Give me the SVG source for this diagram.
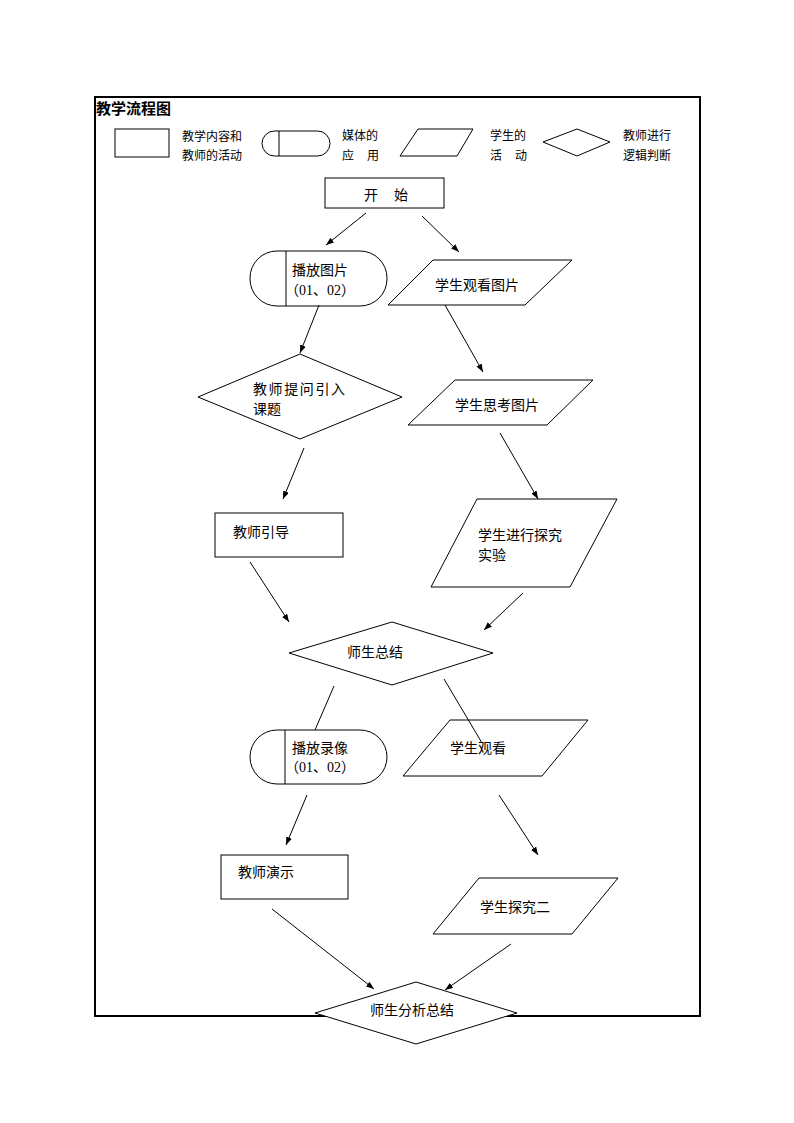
<svg xmlns="http://www.w3.org/2000/svg" width="794" height="1123" viewBox="0 0 794 1123">
<defs>
<style>
.t{font-family:"Noto Sans CJK SC","Liberation Sans",sans-serif;font-size:14px;fill:#000}
.l{font-family:"Noto Sans CJK SC","Liberation Sans",sans-serif;font-size:12px;fill:#000}
.n{font-family:"Liberation Serif","Noto Sans CJK SC",serif;font-size:14px;fill:#000}
.s{fill:#fff;stroke:#000;stroke-width:1}
.c{stroke:#000;stroke-width:1;fill:none}
</style>
<marker id="ah" markerUnits="userSpaceOnUse" markerWidth="9" markerHeight="7" refX="8" refY="3" orient="auto">
<path d="M0,0 L8,3 L0,6 Z" fill="#000"/>
</marker>
</defs>
<rect x="0" y="0" width="794" height="1123" fill="#fff"/>
<rect x="95" y="97" width="605" height="919" fill="none" stroke="#000" stroke-width="2"/>
<text x="96" y="114" font-family="Noto Sans CJK SC, sans-serif" font-size="15" font-weight="bold">教学流程图</text>

<g id="legend">
<rect class="s" x="115" y="129" width="54" height="28"/>
<text class="l" x="182" y="141">教学内容和</text>
<text class="l" x="182" y="160">教师的活动</text>
<rect class="s" x="262" y="131" width="68" height="25" rx="12.5" ry="12.5"/>
<line class="c" x1="279" y1="131" x2="279" y2="156"/>
<text class="l" x="342" y="140">媒体的</text>
<text class="l" y="160"><tspan x="342">应</tspan><tspan x="367">用</tspan></text>
<polygon class="s" points="418,129 473,129 457,156 400,156"/>
<text class="l" x="490" y="140">学生的</text>
<text class="l" y="160"><tspan x="490">活</tspan><tspan x="515">动</tspan></text>
<polygon class="s" points="543,142 577,129 610,142 577,156"/>
<text class="l" x="623" y="140">教师进行</text>
<text class="l" x="623" y="160">逻辑判断</text>
</g>

<g id="start">
<rect class="s" x="325" y="178" width="119" height="30"/>
<text class="t" y="200"><tspan x="364">开</tspan><tspan x="394">始</tspan></text>
</g>
<g id="media1">
<rect class="s" x="250" y="251" width="137" height="55" rx="27" ry="27"/>
<line class="c" x1="286" y1="251" x2="286" y2="306"/>
<text class="t" x="292" y="275">播放图片</text>
<text class="n" x="285" y="295">（01、02）</text>
</g>
<g id="s1">
<polygon class="s" points="433,260 572,260 525,305 388,305"/>
<text class="t" x="435" y="290">学生观看图片</text>
</g>
<g id="q1">
<polygon class="s" points="198,397 300,354 402,397 300,439"/>
<text class="t" x="253" y="394" letter-spacing="1.6">教师提问引入</text>
<text class="t" x="253" y="414">课题</text>
</g>
<g id="s2">
<polygon class="s" points="455,380 593,380 547,425 408,425"/>
<text class="t" x="455" y="410">学生思考图片</text>
</g>
<g id="t1">
<rect class="s" x="215" y="513" width="128" height="44"/>
<text class="t" x="233" y="537">教师引导</text>
</g>
<g id="s3">
<polygon class="s" points="477,499 617,499 570,587 431,587"/>
<text class="t" x="478" y="540">学生进行探究</text>
<text class="t" x="478" y="560">实验</text>
</g>
<g id="q2">
<polygon class="s" points="289,653 392,622 493,653 392,685"/>
<text class="t" x="347" y="657">师生总结</text>
</g>
<g id="media2">
<rect class="s" x="250" y="730" width="137" height="54" rx="27" ry="27"/>
<line class="c" x1="285" y1="730" x2="285" y2="784"/>
<text class="t" x="292" y="753">播放录像</text>
<text class="n" x="285" y="772">（01、02）</text>
</g>
<g id="s4">
<polygon class="s" points="450,720 588,720 542,776 403,776"/>
<text class="t" x="450" y="753">学生观看</text>
</g>
<g id="t2">
<rect class="s" x="221" y="855" width="127" height="44"/>
<text class="t" x="238" y="877">教师演示</text>
</g>
<g id="s5">
<polygon class="s" points="479,878 618,878 572,934 433,934"/>
<text class="t" x="480" y="912">学生探究二</text>
</g>
<g id="end">
<polygon class="s" points="315,1013 416,982 517,1013 416,1044"/>
<text class="t" x="370" y="1015">师生分析总结</text>
</g>

<g id="connectors" class="c">
<line x1="366" y1="213" x2="326" y2="245" marker-end="url(#ah)"/>
<line x1="422" y1="216" x2="459" y2="252" marker-end="url(#ah)"/>
<line x1="319" y1="305" x2="300" y2="353" marker-end="url(#ah)"/>
<line x1="445" y1="305" x2="483" y2="372" marker-end="url(#ah)"/>
<line x1="304" y1="448" x2="283" y2="499" marker-end="url(#ah)"/>
<line x1="500" y1="433" x2="538" y2="499" marker-end="url(#ah)"/>
<line x1="250" y1="562" x2="289" y2="622" marker-end="url(#ah)"/>
<line x1="523" y1="593" x2="484" y2="630" marker-end="url(#ah)"/>
<line x1="334" y1="686" x2="315" y2="730"/>
<line x1="444" y1="679" x2="482" y2="743"/>
<line x1="307" y1="795" x2="286" y2="845" marker-end="url(#ah)"/>
<line x1="499" y1="795" x2="538" y2="855" marker-end="url(#ah)"/>
<line x1="272" y1="909" x2="374" y2="989" marker-end="url(#ah)"/>
<line x1="511" y1="944" x2="445" y2="990" marker-end="url(#ah)"/>
</g>
</svg>
